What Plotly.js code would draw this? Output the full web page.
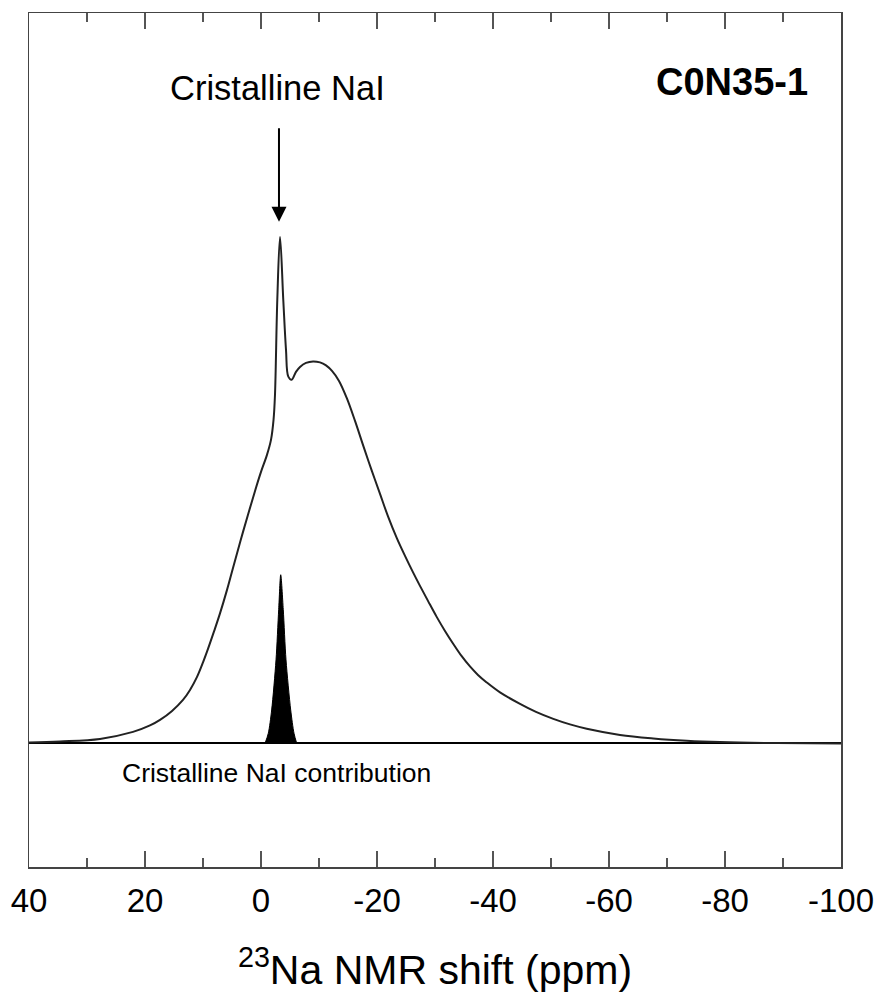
<!DOCTYPE html>
<html>
<head>
<meta charset="utf-8">
<script src="https://cdn.plot.ly/plotly-3.0.1.min.js"></script>
<style>html,body{margin:0;padding:0;background:#fff;}#chart{width:878px;height:998px;}</style>
</head>
<body>
<div id="chart"></div>
<script>
// Total 23Na spectrum (shift in ppm, normalised intensity)
const shiftTotal = [40, 34.66, 27.76, 22.07, 19.14, 17.41, 15.34, 13.45, 12.24, 11.03, 10.0, 9.14, 8.10, 7.07, 5.86, 4.83, 3.10, 1.03, 0, -1.03, -1.72, -2.16, -2.41, -2.81, -3.28, -3.84, -4.31, -4.71, -5.29, -6.03, -6.72, -7.76, -8.97, -10.17, -11.21, -12.24, -13.45, -14.78, -16.21, -17.64, -19.05, -20.52, -21.9, -23.4, -24.83, -26.26, -27.41, -28.79, -30.29, -31.72, -33.16, -34.57, -36.03, -37.41, -38.91, -41.21, -44.66, -47.41, -50.4, -53.28, -56.16, -61.9, -67.64, -73.4, -79.14, -88.91, -100];
const intensityTotal = [0.002, 0.004, 0.0089, 0.0227, 0.0355, 0.0464, 0.0642, 0.0859, 0.1056, 0.1313, 0.1599, 0.1866, 0.2211, 0.2567, 0.3031, 0.3465, 0.4176, 0.4985, 0.536, 0.5696, 0.5992, 0.6387, 0.688, 0.876, 1.0, 0.876, 0.777, 0.724, 0.718, 0.7335, 0.7433, 0.7512, 0.7542, 0.7522, 0.7463, 0.7354, 0.7157, 0.6821, 0.6367, 0.5874, 0.54, 0.4926, 0.4482, 0.4058, 0.3702, 0.3366, 0.311, 0.2814, 0.2498, 0.2221, 0.1964, 0.1727, 0.152, 0.1352, 0.1204, 0.1007, 0.078, 0.0622, 0.0484, 0.0375, 0.029, 0.0168, 0.0099, 0.0053, 0.0026, 0.0006, 0];

// Crystalline NaI contribution
const shiftNaI = [-0.69, -1.26, -1.84, -2.59, -3.05, -3.4, -3.84, -4.31, -5.12, -5.69, -6.16];
const intensityNaI = [0, 0.02, 0.066, 0.165, 0.264, 0.333, 0.264, 0.165, 0.066, 0.02, 0];

const tickValues = [40, 20, 0, -20, -40, -60, -80, -100];
const tickLabels = ["40", "20", "0", "-20", "-40", "-60", "-80", "-100"];

const FONT = "Liberation Sans, Arial, Helvetica, sans-serif";

const traces = [
  {
    x: shiftNaI, y: intensityNaI, type: "scatter", mode: "lines",
    line: {color: "#000", width: 1, shape: "spline", smoothing: 0.8},
    fill: "tozeroy", fillcolor: "#000", hoverinfo: "skip"
  },
  {
    x: shiftTotal, y: intensityTotal, type: "scatter", mode: "lines",
    line: {color: "#222", width: 2, shape: "spline", smoothing: 1},
    hoverinfo: "skip"
  }
];

const layout = {
  width: 878, height: 998,
  margin: {l: 29, r: 37, t: 13, b: 131},
  paper_bgcolor: "#fff", plot_bgcolor: "#fff",
  showlegend: false,
  font: {family: FONT, color: "#000"},
  xaxis: {
    range: [40, -100],
    tickmode: "array", tickvals: tickValues, ticktext: tickLabels,
    ticks: "inside", ticklen: 16, tickwidth: 1.5, tickcolor: "#555",
    minor: {dtick: 10, tick0: 0, ticks: "inside", ticklen: 9, tickwidth: 1.5, tickcolor: "#555"},
    showline: true, linecolor: "#444", linewidth: 1.5, mirror: "ticks",
    showgrid: false, zeroline: false,
    tickfont: {family: FONT, size: 33, color: "#000"},
    ticklabelstandoff: 4,
    title: {text: "<sup>23</sup>Na NMR shift (ppm)", font: {family: FONT, size: 41, color: "#000"}, standoff: 37},
    automargin: false
  },
  yaxis: {
    range: [-0.244, 1.442],
    showline: true, linecolor: "#444", linewidth: 1.5, mirror: true,
    ticks: "", showticklabels: false, showgrid: false,
    zeroline: true, zerolinecolor: "#000", zerolinewidth: 2,
    automargin: false
  },
  annotations: [
    {x: -2.93, y: 1.294, xref: "x", yref: "y", text: "Cristalline NaI", showarrow: false,
     font: {family: FONT, size: 34.5, color: "#000"}},
    {x: -81.2, y: 1.306, xref: "x", yref: "y", text: "<b>C0N35-1</b>", showarrow: false,
     font: {family: FONT, size: 38, color: "#000"}},
    {x: -2.6, y: -0.058, xref: "x", yref: "y", text: "Cristalline NaI contribution", showarrow: false,
     font: {family: FONT, size: 26.5, color: "#000"}},
    {x: -3.1, y: 1.03, xref: "x", yref: "y", text: "", showarrow: true,
     ax: 0, ay: -95, arrowhead: 2, arrowsize: 1.5, arrowwidth: 2, arrowcolor: "#000"}
  ]
};

Plotly.newPlot("chart", traces, layout, {staticPlot: true, displayModeBar: false});
</script>
</body>
</html>
